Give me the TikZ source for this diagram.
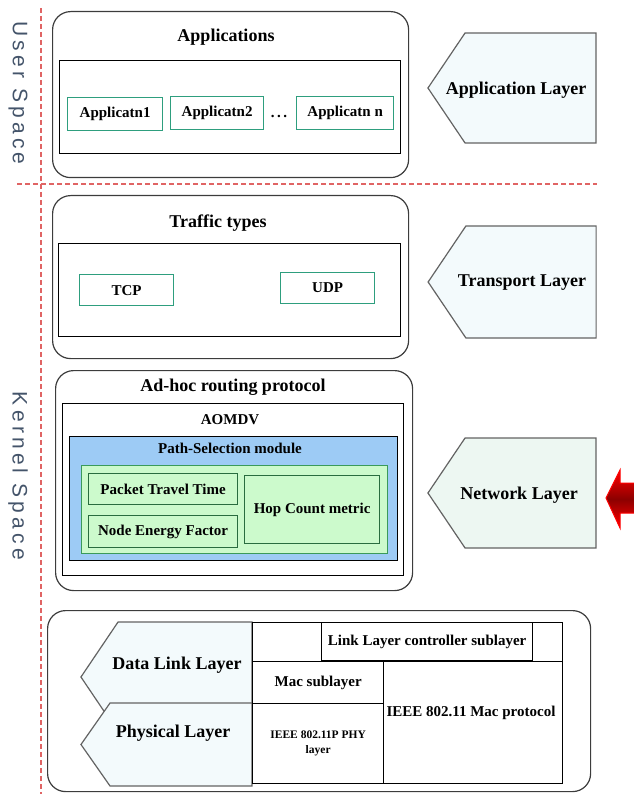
\documentclass[tikz,border=0pt]{standalone}
\usepackage{fontspec}
\setmainfont{Liberation Serif}
\newfontfamily\spacefont[LetterSpace=20]{Liberation Sans}
\usepackage{tikz}
\usetikzlibrary{positioning,shapes.symbols}
\definecolor{boxline}{HTML}{3C3C3C}
\definecolor{appgreen}{HTML}{2E9E7E}
\definecolor{tagfill}{HTML}{F3FAFC}
\definecolor{netfill}{HTML}{EDF7F2}
\definecolor{pathblue}{HTML}{9DCBF5}
\definecolor{metricfill}{HTML}{CCFACC}
\definecolor{metricline}{HTML}{3A9A5A}
\definecolor{spacered}{HTML}{E06464}
\definecolor{spacetext}{HTML}{44546A}
\newcommand\titlefont{\fontsize{18}{21}\selectfont\bfseries}
\newcommand\itemfont{\fontsize{15}{18}\selectfont\bfseries}
\newcommand\smallfont{\fontsize{11.5}{14.5}\selectfont\bfseries}

\begin{document}
\begin{tikzpicture}[x=1pt,y=-1pt,
		layerbox/.style={
			draw=boxline,
			line width=1.2pt,
			rounded corners=18,
			anchor=north west,
			inner sep=0
		},
		framebox/.style={
			draw=black,
			line width=1.3pt,
			anchor=north west,
			inner sep=0
		},
		appbox/.style={
			draw=appgreen,
			fill=white,
			line width=1.3pt,
			anchor=north west,
			inner sep=0,
			font=\itemfont
		},
		metricbox/.style={
			draw=metricline!70!black,
			fill=metricfill,
			line width=1.2pt,
			anchor=north west,
			inner sep=0,
			align=center,
			font=\itemfont
		},
		cell/.style={
			draw=black,
			line width=1.3pt,
			anchor=north west,
			inner sep=0,
			align=center,
			font=\itemfont
		},
		tagbox/.style={
			draw=boxline!80,
			fill=tagfill,
			line width=1.2pt,
			signal,
			signal to=west,
			signal pointer angle=112,
			minimum width=168,
			minimum height=110,
			inner sep=0
		},
		title/.style={
			inner sep=0,
			font=\titlefont
		},
		spacedash/.style={
			draw=spacered,
			line width=1.5pt,
			dash pattern=on 5pt off 3pt
		},
		spacelabel/.style={
			rotate=-90,
			text=spacetext,
			inner sep=0,
			font=\spacefont\fontsize{21}{24}\selectfont
		}
		]
		\useasboundingbox (0,0) rectangle (633,794);
		
		% user / kernel split
		\coordinate (vtop) at (41,8);
		\coordinate (vbot) at (41,794);
		\coordinate (hleft) at (17,184);
		\coordinate (hright) at (597,184);
		\draw[spacedash] (vtop) -- (vbot);
		\draw[spacedash] (hleft) -- (hright);
		\node[spacelabel] (user) at (18,93) {User Space};
		\node[spacelabel] (kernel) at (18,476) {Kernel Space};
		
		% applications
		\node[layerbox, minimum width=356, minimum height=166] (apps) at (52,11) {};
		\node[title] (appstitle) at (226,37) {Applications};
		\node[framebox, minimum width=341, minimum height=93] (appsframe) at (59,60) {};
		\node[appbox, minimum width=95, minimum height=33] (app1) at (67,97) {Applicatn1};
		\node[appbox, minimum width=93, minimum height=33] (app2) at (170,96) {Applicatn2};
		\node[inner sep=0, font=\itemfont] (dots) at (279,116) {.\,.\,.};
		\node[appbox, minimum width=97, minimum height=33] (appn) at (296,96) {Applicatn n};
		
		% traffic types
		\node[layerbox, minimum width=356, minimum height=163] (traffic) at (52,195) {};
		\node[title] (traffictitle) at (218,223) {Traffic types};
		\node[framebox, minimum width=342, minimum height=93] (trafficframe) at (58,243) {};
		\node[appbox, minimum width=94, minimum height=31] (tcp) at (79,274) {TCP};
		\node[appbox, minimum width=94, minimum height=31] (udp) at (280,272) {UDP};
		
		% routing
		\node[layerbox, minimum width=357, minimum height=220] (routing) at (55,370) {};
		\node[title] (routingtitle) at (233,387) {Ad-hoc routing protocol};
		\node[framebox, minimum width=341, minimum height=172] (aomdv) at (62,403) {};
		\node[inner sep=0, font=\itemfont] (aomdvtitle) at (230,420) {AOMDV};
		\node[framebox, fill=pathblue, minimum width=328, minimum height=124] (pathsel) at (69,436) {};
		\node[inner sep=0, font=\itemfont] (pathseltitle) at (230,448) {Path-Selection module};
		\node[framebox, draw=metricline, fill=metricfill, minimum width=306, minimum height=88] (metrics) at (81,465) {};
		\node[metricbox, minimum width=149, minimum height=31] (ptt) at (88,473) {Packet Travel Time};
		\node[metricbox, minimum width=149, minimum height=32] (nef) at (88,515) {Node Energy Factor};
		\node[metricbox, minimum width=135, minimum height=68] (hop) at (244,475) {Hop Count metric};
		
		% link and physical
		\node[layerbox, minimum width=543, minimum height=181] (lower) at (47,610) {};
		\node[tagbox, minimum width=171, minimum height=110] (datalink) at (185,677) {};
		\node[tagbox, signal pointer angle=110, minimum width=171, minimum height=83] (physical) at (181,744.5) {};
		\node[title] (datalinktext) at (177,665) {Data Link Layer};
		\node[title] (physicaltext) at (173,733) {Physical Layer};
		\node[cell, minimum width=310, minimum height=39] (toprow) at (252,622) {};
		\node[cell, minimum width=211, minimum height=38] (llc) at (321,622) {Link Layer controller sublayer};
		\node[cell, minimum width=131, minimum height=42] (macsub) at (252,661) {Mac sublayer};
		\node[cell, minimum width=131, minimum height=80, font=\smallfont] (phy) at (252,703) {IEEE 802.11P PHY\\layer};
		\node[cell, minimum width=179, minimum height=122] (macproto) at (383,661) {};
		\node[inner sep=0, font=\itemfont] (macprototext) at (471,713) {IEEE 802.11 Mac protocol};
		
		% layer tags
		\node[tagbox] (applayer) at (530.5,88) {};
		\node[title] (applayertext) at (516,90) {Application Layer};
		\node[tagbox, minimum height=112] (translayer) at (531,282) {};
		\node[title] (translayertext) at (522,283) {Transport Layer};
		\node[tagbox, fill=netfill] (netlayer) at (530.5,493) {};
		\node[title] (netlayertext) at (519,495) {Network Layer};
		
		% marker
		\shade[top color=red, bottom color=red, middle color=red!55!black, draw=red, line width=1pt]
			(606,498) -- (620,470) -- (620,483) -- (636,483) -- (636,513) -- (620,513) -- (620,528) -- cycle;
		
		\end{tikzpicture}
\end{document}
